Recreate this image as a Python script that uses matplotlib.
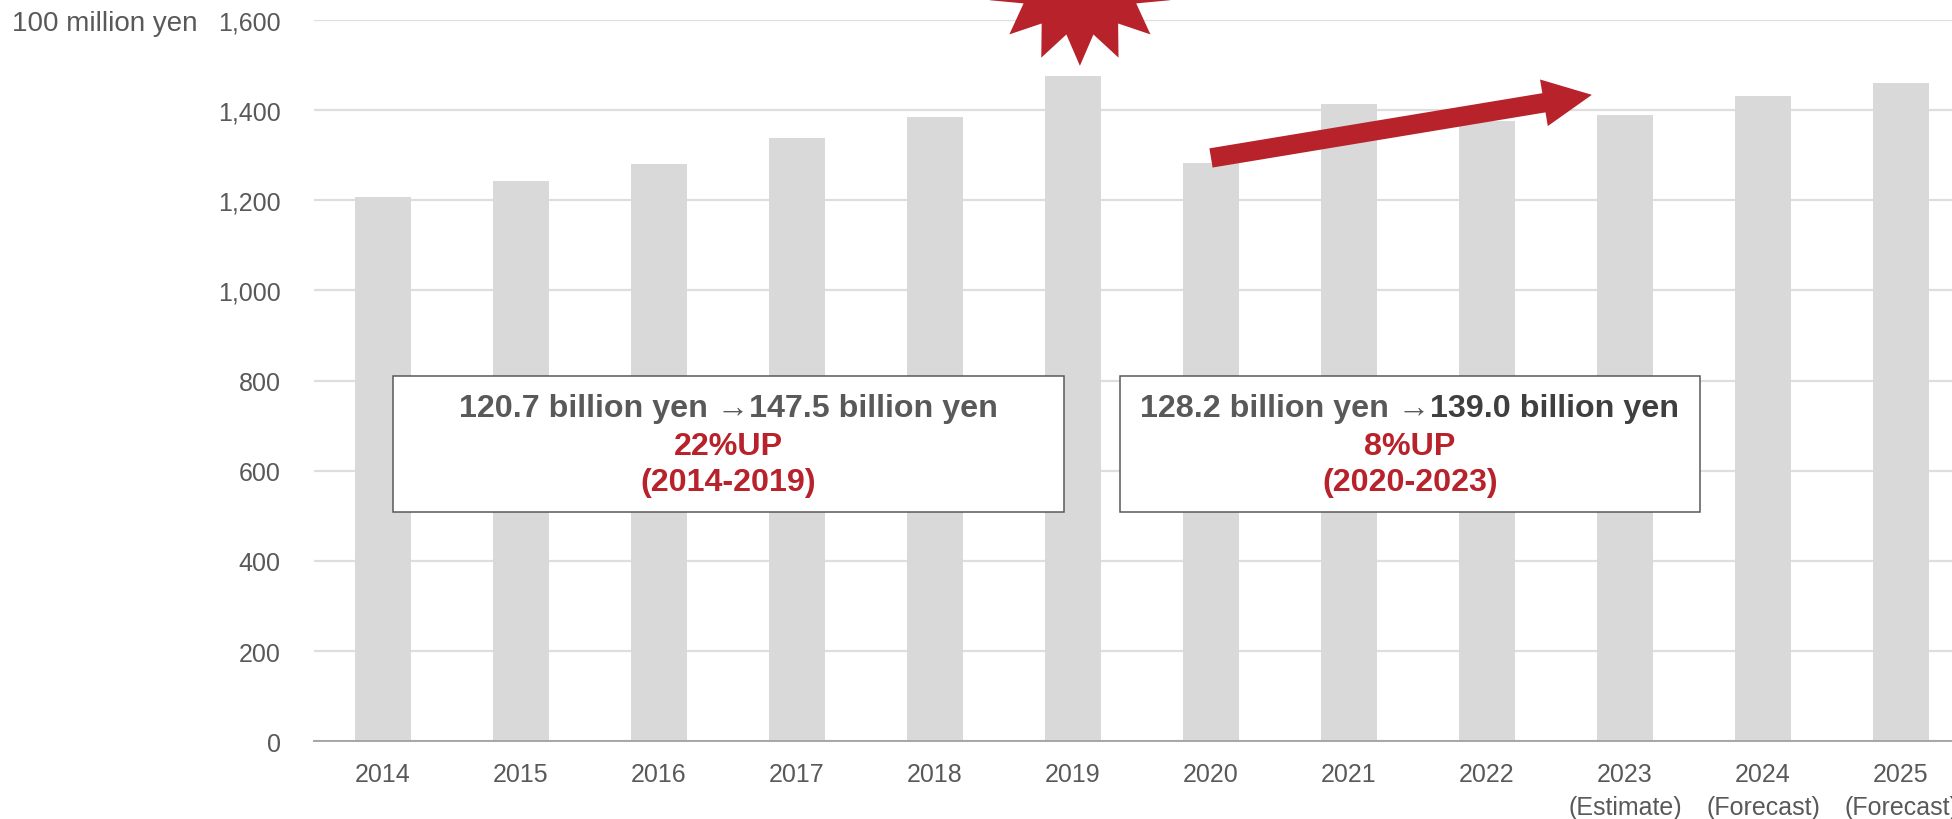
import matplotlib
matplotlib.use("Agg")
import matplotlib.pyplot as plt
import numpy as np
from matplotlib.patches import Polygon, Rectangle, FancyArrowPatch
from matplotlib.transforms import blended_transform_factory

# Market size by year (unit: 100 million yen)
years = ["2014", "2015", "2016", "2017", "2018", "2019",
         "2020", "2021", "2022", "2023", "2024", "2025"]
year_notes = ["", "", "", "", "", "", "", "", "", "(Estimate)", "(Forecast)", "(Forecast)"]
market_size = [1207, 1242, 1280, 1339, 1384, 1475, 1282, 1413, 1377, 1390, 1431, 1461]
y_ticks = [0, 200, 400, 600, 800, 1000, 1200, 1400, 1600]
unit_label = "100 million yen"

# Growth periods highlighted in the call-out boxes
period_pre = ("2014", "2019")
period_post = ("2020", "2023")

GRAY_TEXT = "#595959"
DARK_TEXT = "#3f3f3f"
RED = "#B7222B"
BAR = "#D9D9D9"
FONT = ["Liberation Sans", "DejaVu Sans"]

plt.rcParams["font.family"] = FONT

fig = plt.figure(figsize=(19.52, 8.2), dpi=100)
ax = fig.add_axes([314 / 1952, 77.7 / 820, 1656 / 1952, 721.3 / 820])

x = np.arange(len(years))
ax.bar(x, market_size, width=0.4, color=BAR, zorder=2)

ax.set_xlim(-0.5, len(years) - 0.5)
ax.set_ylim(0, 1600)
ax.set_yticks(y_ticks)
ax.set_yticklabels([f"{v:,}" for v in y_ticks])
ax.set_xticks(x)
ax.set_xticklabels([y if not n else f"{y}\n{n}" for y, n in zip(years, year_notes)],
                   linespacing=1.45)
ax.tick_params(axis="both", length=0, labelsize=18, labelcolor=GRAY_TEXT)
ax.tick_params(axis="y", pad=24)
ax.tick_params(axis="x", pad=15)

ax.yaxis.grid(True, color="#DEDEDE", lw=1.6, zorder=0)
ax.set_axisbelow(True)
for side in ("top", "right", "left"):
    ax.spines[side].set_visible(False)
ax.spines["bottom"].set_color("#A6A6A6")
ax.spines["bottom"].set_linewidth(1.4)
ax.spines["bottom"].set_zorder(3)

# Unit label next to the top tick
trans = blended_transform_factory(fig.transFigure, ax.transData)
fig.text(197 / 1952, 1600, unit_label, transform=trans, ha="right", va="center_baseline",
         fontsize=20, color=GRAY_TEXT)

# 15-point burst marking the 2019 peak
i_peak = years.index("2019")
cx, cy = i_peak + 0.05, market_size[i_peak] + 234
n_pts = 15
k = np.arange(2 * n_pts)
ang = np.deg2rad(-90 + k * (180 / n_pts))
rad = np.where(k % 2 == 0, 1.0, 0.685)
burst = np.column_stack([cx + 0.688 * rad * np.cos(ang), cy + 210.7 * rad * np.sin(ang)])
ax.add_patch(Polygon(burst, closed=True, facecolor=RED, edgecolor="none",
                     clip_on=False, zorder=5))

# Recovery arrow from 2020
i_start = years.index("2020")
arrow = FancyArrowPatch((i_start, market_size[i_start] + 12), (8.76, 1434),
                        arrowstyle="simple,head_length=35,head_width=34,tail_width=14",
                        mutation_scale=1, shrinkA=0, shrinkB=0,
                        facecolor=RED, edgecolor="none", zorder=5, clip_on=False)
ax.add_patch(arrow)


def growth_box(x0, x1, period, split_color):
    a, b = period
    v0 = market_size[years.index(a)]
    v1 = market_size[years.index(b)]
    ax.add_patch(Rectangle((x0, 508.7), x1 - x0, 301.3, facecolor="white",
                           edgecolor="#595959", lw=1.1, zorder=4))
    xc = (x0 + x1) / 2
    left = f"{v0 / 10:.1f} billion yen \u2192"
    right = f"{v1 / 10:.1f} billion yen"
    kw = dict(fontsize=23.2, fontweight="bold", va="center", zorder=6)
    if not split_color:
        ax.text(xc, 740, left + right, ha="center", color=GRAY_TEXT, **kw)
    else:
        r = fig.canvas.get_renderer()
        t1 = ax.text(0, 740, left, ha="left", color=GRAY_TEXT, **kw)
        t2 = ax.text(0, 740, right, ha="left", color=DARK_TEXT, **kw)
        w1 = t1.get_window_extent(r).width
        w2 = t2.get_window_extent(r).width
        px_per_x = ax.transData.transform((1, 0))[0] - ax.transData.transform((0, 0))[0]
        start = xc - (w1 + w2) / 2 / px_per_x
        t1.set_x(start)
        t2.set_x(start + w1 / px_per_x)
    pct = round((v1 / v0 - 1) * 100)
    ax.text(xc, 655, f"{pct}%UP", ha="center", color=RED, **kw)
    ax.text(xc, 575, f"({a}-{b})", ha="center", color=RED, **kw)


growth_box(0.072, 4.935, period_pre, False)
growth_box(5.34, 9.54, period_post, True)

fig.savefig("out.png", dpi=100)
